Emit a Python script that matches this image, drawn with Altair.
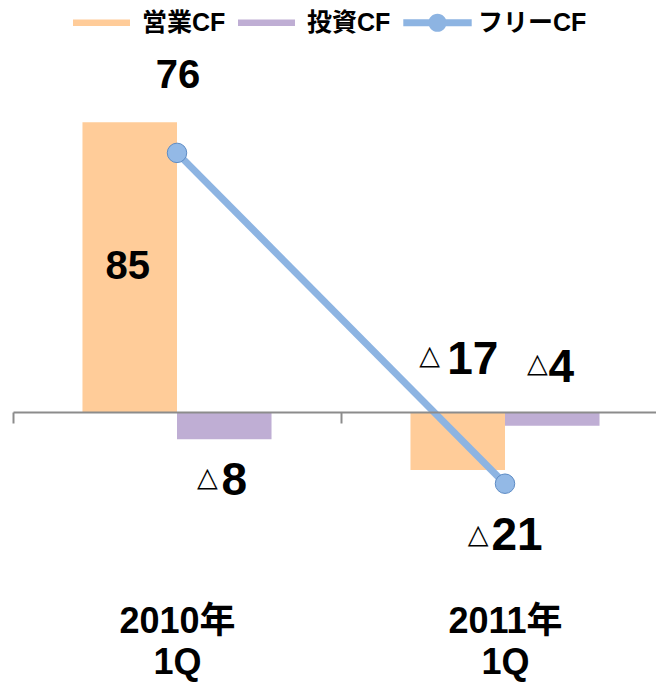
import altair as alt
import pandas as pd

# ---- data -------------------------------------------------------------
categories = ["2010年 1Q", "2011年 1Q"]
series_names = ["営業CF", "投資CF", "フリーCF"]
operating_cf = [85, -17]
investing_cf = [-8, -4]
free_cf = [76, -21]

colors = ["#FFCC99", "#BFAED4", "#8DB4E2"]

FONT = "Liberation Sans, Arial, Noto Sans CJK JP, sans-serif"
TRI_FONT = "DejaVu Sans"

bar_df = pd.DataFrame({
    "category": categories * 2,
    "series": [series_names[0]] * 2 + [series_names[1]] * 2,
    "value": operating_cf + investing_cf,
})
line_df = pd.DataFrame({
    "category": categories,
    "series": [series_names[2]] * 2,
    "value": free_cf,
})

W, H = 643, 560
y_scale = alt.Scale(domain=[-55.1, 109.1], nice=False, zero=False)
x_scale = alt.Scale(domain=categories, range=[0, 656], paddingInner=0, paddingOuter=0)
xoff_scale = alt.Scale(domain=series_names[:2], paddingInner=0, paddingOuter=0.735)
color_scale = alt.Scale(domain=series_names, range=colors)

RECT = "M-1,-0.11H1V0.11H-1Z"
LINEDOT = ("M-1.2,-0.12H1.2V0.12H-1.2Z "
           "M0.32,0A0.32,0.32,0,1,1,-0.32,0A0.32,0.32,0,1,1,0.32,0Z")
shape_scale = alt.Scale(domain=series_names, range=[RECT, RECT, LINEDOT])

legend_spec = alt.Legend(
    title=None, orient="none", legendX=60, legendY=-46, direction="horizontal",
    symbolSize=3249, symbolStrokeWidth=0, symbolOpacity=1,
    labelFont=FONT, labelFontSize=25, labelFontWeight="bold", labelColor="black",
    labelOffset=12, columnPadding=12, labelLimit=300,
)

x_axis = alt.Axis(
    title=None, orient="bottom", offset=-188, tickBand="extent",
    domainColor="#8c8c8c", domainWidth=2, tickColor="#8c8c8c", tickWidth=2,
    tickSize=11, labelExpr="split(datum.label, ' ')", labelFont=FONT,
    labelFontSize=36, labelFontWeight="bold", labelColor="black",
    labelPadding=181, labelLineHeight=41, labelAngle=0, zindex=1, grid=False,
)

bars = alt.Chart(bar_df).mark_bar().encode(
    x=alt.X("category:N", scale=x_scale, axis=x_axis, sort=categories),
    xOffset=alt.XOffset("series:N", scale=xoff_scale, sort=series_names[:2]),
    y=alt.Y("value:Q", scale=y_scale, axis=None),
    color=alt.Color("series:N", scale=color_scale, legend=legend_spec),
)

legend_layer = alt.Chart(pd.DataFrame({"series": series_names})).transform_filter(
    "false"
).mark_point(filled=True, opacity=1).encode(
    color=alt.Color("series:N", scale=color_scale, legend=legend_spec),
    shape=alt.Shape("series:N", scale=shape_scale, legend=legend_spec),
)

line = alt.Chart(line_df).mark_line(color=colors[2], strokeWidth=7).encode(
    x=alt.X("category:N", scale=x_scale, sort=categories),
    y=alt.Y("value:Q", scale=y_scale),
)
points = alt.Chart(line_df).mark_point(
    shape="circle", filled=True, fill="#93B9E6", stroke="#5E8CC5",
    strokeWidth=1, size=380, opacity=1,
).encode(
    x=alt.X("category:N", scale=x_scale, sort=categories),
    y=alt.Y("value:Q", scale=y_scale),
)

# ---- value labels ------------------------------------------------------
# (series index, category index) -> label style (offsets in pixels)
label_style = {
    (2, 0): dict(dx=1, dy=-77, size=40, half=False),
    (0, 0): dict(dx=-2, dy=0, size=40, half=True),
    (1, 0): dict(dx=10, dy=42, size=46, tdx=-17, tdy=39),
    (0, 1): dict(dx=15, dy=-110, size=46, tdx=-28, tdy=-114),
    (1, 1): dict(dx=9, dy=-58, size=46, tdx=-15, tdy=-62),
    (2, 1): dict(dx=12, dy=52, size=46, tdx=-27, tdy=51),
}
series_values = [operating_cf, investing_cf, free_cf]

text_layers = []
for (si, ci), st in label_style.items():
    v = series_values[si][ci]
    ypos = v / 2 if st.get("half") else v
    df = pd.DataFrame({
        "category": [categories[ci]],
        "series": [series_names[si]],
        "y": [ypos],
        "num": [str(abs(v))],
        "tri": ["△"],
    })
    enc = dict(
        x=alt.X("category:N", scale=x_scale, sort=categories),
        y=alt.Y("y:Q", scale=y_scale),
    )
    if si < 2:
        enc["xOffset"] = alt.XOffset("series:N", scale=xoff_scale, sort=series_names[:2])
    text_layers.append(
        alt.Chart(df).mark_text(
            font=FONT, fontSize=st["size"], fontWeight="bold", color="black",
            align="center", baseline="middle", dx=st["dx"], dy=st["dy"],
        ).encode(text="num:N", **enc)
    )
    if v < 0:
        text_layers.append(
            alt.Chart(df).mark_text(
                font=TRI_FONT, fontSize=27, fontWeight="bold", color="black",
                align="center", baseline="middle", dx=st["tdx"], dy=st["tdy"],
            ).encode(text="tri:N", **enc)
        )

chart = alt.layer(bars, legend_layer, line, points, *text_layers).properties(
    width=W, height=H,
    autosize=alt.AutoSizeParams(type="none"),
    padding={"left": 5, "top": 32, "right": 0, "bottom": 84},
    background="white",
).configure_view(stroke=None)

chart.save("out.html", embed_options={"renderer": "svg", "actions": False})
